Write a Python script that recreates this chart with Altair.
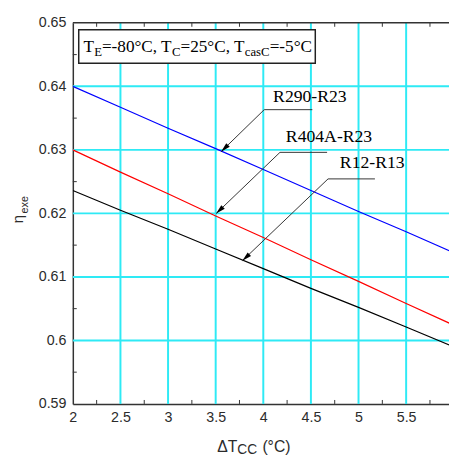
import altair as alt
import pandas as pd

# ---------------- data ----------------
dt = [2, 2.5, 3, 3.5, 4, 4.5, 5, 5.5, 6]
r290 = [0.6400, 0.6367, 0.6334, 0.6302, 0.6269, 0.6236, 0.6203, 0.6171, 0.6138]
r404a = [0.6300, 0.6265, 0.6231, 0.6196, 0.6162, 0.6127, 0.6093, 0.6058, 0.6024]
r12 = [0.6236, 0.6205, 0.6175, 0.6144, 0.6113, 0.6082, 0.6052, 0.6021, 0.5990]
series = ["R290-R23", "R404A-R23", "R12-R13"]
colors = ["#0000FF", "#FF0000", "#000000"]

x_ticks = [2, 2.5, 3, 3.5, 4, 4.5, 5, 5.5]
y_ticks = [0.59, 0.60, 0.61, 0.62, 0.63, 0.64, 0.65]
grid_x = [2.5, 3, 3.5, 4, 4.5, 5, 5.5]
grid_y = [0.60, 0.61, 0.62, 0.63, 0.64]
minor_x = [2.25, 2.75, 3.25, 3.75, 4.25, 4.75, 5.25, 5.75]
minor_y = [0.595, 0.605, 0.615, 0.625, 0.635, 0.645]

# annotation: label text anchor, leader elbow, leader end, arrow tip
lab_x = [4.103, 4.237, 4.804]
lab_y = [0.63746, 0.63127, 0.62709]
elbow_x = [4.010, 4.175, 4.680]
hend_x = [4.515, 4.670, 5.172]
elbow_y = [0.63633, 0.62961, 0.62543]
tip_x = [3.557, 3.505, 3.780]
tip_y = [0.62972, 0.61997, 0.61254]
tip_ang = [226, 226, 227]

legend_box = {"x": 2.062, "x2": 4.546, "y": 0.64892, "y2": 0.64365}
legend_anchor = {"x": 2.1134, "y": 0.64540}
legend_pieces = ["T", "E", "=-80°C, T", "C", "=25°C, T", "casC", "=-5°C"]
legend_sub = [False, True, False, True, False, True, False]
legend_dx = [0, 10.7, 18.6, 89.9, 98.6, 164.1, 189.4]

# ---------------- chart ----------------
W, H = 383, 388
xs = alt.Scale(domain=[2, 5.95], nice=False, zero=False)
ys = alt.Scale(domain=[0.59, 0.65], nice=False, zero=False)

ax_common = dict(title=None, grid=False, ticks=False, tickSize=0, labelPadding=7,
                 labelFontSize=14.5, labelFont="Liberation Sans", labelColor="#2b2b2b",
                 domainColor="#333333", domainWidth=1.5, labelFlush=False, format="~g")
x_axis = alt.Axis(values=x_ticks, **ax_common)
y_axis = alt.Axis(values=y_ticks, **ax_common)


def X(f):
    return alt.X(f, type="quantitative", scale=xs, axis=x_axis)


def Y(f):
    return alt.Y(f, type="quantitative", scale=ys, axis=y_axis)


rows = []
for name, vals in zip(series, [r290, r404a, r12]):
    for xv, yv in zip(dt, vals):
        rows.append({"dt": xv, "eta": yv, "series": name})
df = pd.DataFrame(rows)

cyan = "#2EEAF5"
grid_v = alt.Chart(pd.DataFrame({"v": grid_x})).mark_rule(color=cyan, strokeWidth=2).encode(x=X("v"))
grid_h = alt.Chart(pd.DataFrame({"v": grid_y})).mark_rule(color=cyan, strokeWidth=2).encode(y=Y("v"))

mx = pd.DataFrame({"v": minor_x})
my = pd.DataFrame({"v": minor_y})
tick_b = alt.Chart(mx).mark_rule(color="#333333", strokeWidth=1).encode(
    x=X("v"), y=alt.value(H), y2=alt.value(H - 4))
tick_t = alt.Chart(mx).mark_rule(color="#333333", strokeWidth=1).encode(
    x=X("v"), y=alt.value(0), y2=alt.value(4))
tick_l = alt.Chart(my).mark_rule(color="#333333", strokeWidth=1).encode(
    y=Y("v"), x=alt.value(0), x2=alt.value(4))
top_border = alt.Chart(pd.DataFrame({"a": [0]})).mark_rule(color="#333333", strokeWidth=1.5).encode(
    x=alt.value(0), x2=alt.value(W), y=alt.value(0))

lines = alt.Chart(df).mark_line(strokeWidth=1.2, clip=True).encode(
    x=X("dt"), y=Y("eta"),
    color=alt.Color("series:N", scale=alt.Scale(domain=series, range=colors), legend=None),
)

ann = pd.DataFrame({
    "label": series, "lx": lab_x, "ly": lab_y,
    "ex": elbow_x, "hx": hend_x, "ey": elbow_y,
    "tx": tip_x, "ty": tip_y, "ang": tip_ang,
})
lead_h = alt.Chart(ann).mark_rule(color="#333333", strokeWidth=1).encode(
    x=X("ex"), x2="hx", y=Y("ey"))
lead_d = alt.Chart(ann).mark_rule(color="#333333", strokeWidth=1).encode(
    x=X("ex"), x2="tx", y=Y("ey"), y2="ty")
arrows = alt.Chart(ann).mark_point(
    shape="M0,0 L-0.26,1 L0.26,1 Z", filled=True, color="#000000", opacity=1, size=380
).encode(x=X("tx"), y=Y("ty"), angle=alt.Angle("ang:Q", scale=None))
labels = alt.Chart(ann).mark_text(
    align="left", baseline="alphabetic", font="Liberation Serif", fontSize=18, color="#000000"
).encode(x=X("lx"), y=Y("ly"), text="label:N")

box = alt.Chart(pd.DataFrame([legend_box])).mark_rect(
    fill="white", stroke="#222222", strokeWidth=1.5).encode(x=X("x"), x2="x2", y=Y("y"), y2="y2")

legend_layers = []
la = pd.DataFrame([legend_anchor])
for txt, sub, dx in zip(legend_pieces, legend_sub, legend_dx):
    legend_layers.append(
        alt.Chart(la).mark_text(
            align="left", baseline="alphabetic", font="Liberation Serif",
            fontSize=13 if sub else 17.5, dx=dx, dy=4 if sub else 0, color="#000000"
        ).encode(x=X("x"), y=Y("y"), text=alt.value(txt))
    )

one = pd.DataFrame({"a": [0]})
xt_main = alt.Chart(one).mark_text(align="left", baseline="alphabetic", font="Liberation Sans",
                                   fontSize=16, color="#2b2b2b").encode(
    x=alt.value(147), y=alt.value(437), text=alt.value("ΔT"))
xt_sub = alt.Chart(one).mark_text(align="left", baseline="alphabetic", font="Liberation Sans",
                                  fontSize=14, color="#2b2b2b").encode(
    x=alt.value(167.5), y=alt.value(439), text=alt.value("CC"))
xt_unit = alt.Chart(one).mark_text(align="left", baseline="alphabetic", font="Liberation Sans",
                                   fontSize=16, color="#2b2b2b").encode(
    x=alt.value(193), y=alt.value(437), text=alt.value("(°C)"))
yt_main = alt.Chart(one).mark_text(align="left", baseline="alphabetic", font="Liberation Sans",
                                   fontSize=15, angle=270, color="#2b2b2b").encode(
    x=alt.value(-51), y=alt.value(204), text=alt.value("η"))
yt_sub = alt.Chart(one).mark_text(align="left", baseline="alphabetic", font="Liberation Sans",
                                  fontSize=11, angle=270, color="#2b2b2b").encode(
    x=alt.value(-46), y=alt.value(194), text=alt.value("exe"))

chart = alt.layer(
    grid_v, grid_h, tick_b, tick_t, tick_l, top_border, lines,
    lead_h, lead_d, arrows, labels, box, *legend_layers,
    xt_main, xt_sub, xt_unit, yt_main, yt_sub,
).properties(
    width=W, height=H,
    autosize=alt.AutoSizeParams(type="none"),
    padding={"left": 66, "top": 11, "right": 0, "bottom": 54},
    background="white",
).configure_view(stroke=None)

chart.save("out.html", embed_options={"renderer": "svg", "actions": False})
